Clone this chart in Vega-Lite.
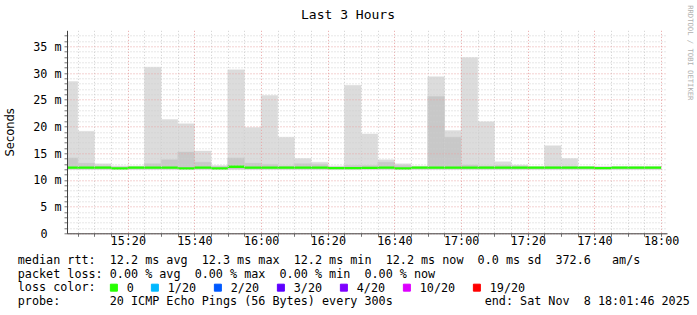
{
  "$schema": "https://vega.github.io/schema/vega-lite/v6.json",
  "width": 600,
  "height": 203,
  "autosize": {"type": "none"},
  "padding": {"left": 67, "top": 30.3, "right": 30, "bottom": 81.7},
  "background": "white",
  "data": {
    "values": [
      {"t": "2025-11-08T15:00:00Z", "t2": "2025-11-08T15:05:00Z", "lo": 12.0, "dhi": 14.1, "hi": 28.4, "med": 12.3, "loss": "0"},
      {"t": "2025-11-08T15:05:00Z", "t2": "2025-11-08T15:10:00Z", "lo": 12.0, "dhi": 13.1, "hi": 19.1, "med": 12.3, "loss": "0"},
      {"t": "2025-11-08T15:10:00Z", "t2": "2025-11-08T15:15:00Z", "lo": 12.0, "dhi": 12.6, "hi": 13.0, "med": 12.3, "loss": "0"},
      {"t": "2025-11-08T15:15:00Z", "t2": "2025-11-08T15:20:00Z", "lo": 12.0, "dhi": 12.4, "hi": 12.6, "med": 12.15, "loss": "0"},
      {"t": "2025-11-08T15:20:00Z", "t2": "2025-11-08T15:25:00Z", "lo": 12.0, "dhi": 12.4, "hi": 12.6, "med": 12.3, "loss": "0"},
      {"t": "2025-11-08T15:25:00Z", "t2": "2025-11-08T15:30:00Z", "lo": 12.0, "dhi": 13.0, "hi": 31.1, "med": 12.3, "loss": "0"},
      {"t": "2025-11-08T15:30:00Z", "t2": "2025-11-08T15:35:00Z", "lo": 12.0, "dhi": 13.75, "hi": 21.3, "med": 12.3, "loss": "0"},
      {"t": "2025-11-08T15:35:00Z", "t2": "2025-11-08T15:40:00Z", "lo": 12.0, "dhi": 15.2, "hi": 20.5, "med": 12.15, "loss": "0"},
      {"t": "2025-11-08T15:40:00Z", "t2": "2025-11-08T15:45:00Z", "lo": 12.0, "dhi": 13.3, "hi": 15.4, "med": 12.3, "loss": "0"},
      {"t": "2025-11-08T15:45:00Z", "t2": "2025-11-08T15:50:00Z", "lo": 12.0, "dhi": 12.5, "hi": 12.7, "med": 12.15, "loss": "0"},
      {"t": "2025-11-08T15:50:00Z", "t2": "2025-11-08T15:55:00Z", "lo": 12.0, "dhi": 14.1, "hi": 30.6, "med": 12.45, "loss": "0"},
      {"t": "2025-11-08T15:55:00Z", "t2": "2025-11-08T16:00:00Z", "lo": 12.0, "dhi": 13.1, "hi": 19.8, "med": 12.3, "loss": "0"},
      {"t": "2025-11-08T16:00:00Z", "t2": "2025-11-08T16:05:00Z", "lo": 12.0, "dhi": 12.9, "hi": 25.8, "med": 12.3, "loss": "0"},
      {"t": "2025-11-08T16:05:00Z", "t2": "2025-11-08T16:10:00Z", "lo": 12.0, "dhi": 12.6, "hi": 18.0, "med": 12.3, "loss": "0"},
      {"t": "2025-11-08T16:10:00Z", "t2": "2025-11-08T16:15:00Z", "lo": 12.0, "dhi": 13.0, "hi": 14.0, "med": 12.3, "loss": "0"},
      {"t": "2025-11-08T16:15:00Z", "t2": "2025-11-08T16:20:00Z", "lo": 12.0, "dhi": 12.9, "hi": 13.3, "med": 12.3, "loss": "0"},
      {"t": "2025-11-08T16:20:00Z", "t2": "2025-11-08T16:25:00Z", "lo": 12.0, "dhi": 12.4, "hi": 12.6, "med": 12.2, "loss": "0"},
      {"t": "2025-11-08T16:25:00Z", "t2": "2025-11-08T16:30:00Z", "lo": 12.0, "dhi": 12.7, "hi": 27.7, "med": 12.2, "loss": "0"},
      {"t": "2025-11-08T16:30:00Z", "t2": "2025-11-08T16:35:00Z", "lo": 12.0, "dhi": 12.7, "hi": 18.6, "med": 12.25, "loss": "0"},
      {"t": "2025-11-08T16:35:00Z", "t2": "2025-11-08T16:40:00Z", "lo": 12.0, "dhi": 13.3, "hi": 13.75, "med": 12.3, "loss": "0"},
      {"t": "2025-11-08T16:40:00Z", "t2": "2025-11-08T16:45:00Z", "lo": 12.0, "dhi": 12.7, "hi": 13.0, "med": 12.15, "loss": "0"},
      {"t": "2025-11-08T16:45:00Z", "t2": "2025-11-08T16:50:00Z", "lo": 12.0, "dhi": 12.4, "hi": 12.6, "med": 12.3, "loss": "0"},
      {"t": "2025-11-08T16:50:00Z", "t2": "2025-11-08T16:55:00Z", "lo": 12.0, "dhi": 25.6, "hi": 29.3, "med": 12.3, "loss": "0"},
      {"t": "2025-11-08T16:55:00Z", "t2": "2025-11-08T17:00:00Z", "lo": 12.0, "dhi": 18.0, "hi": 19.25, "med": 12.3, "loss": "0"},
      {"t": "2025-11-08T17:00:00Z", "t2": "2025-11-08T17:05:00Z", "lo": 12.0, "dhi": 12.8, "hi": 32.9, "med": 12.3, "loss": "0"},
      {"t": "2025-11-08T17:05:00Z", "t2": "2025-11-08T17:10:00Z", "lo": 12.0, "dhi": 12.6, "hi": 20.9, "med": 12.3, "loss": "0"},
      {"t": "2025-11-08T17:10:00Z", "t2": "2025-11-08T17:15:00Z", "lo": 12.0, "dhi": 12.7, "hi": 13.4, "med": 12.3, "loss": "0"},
      {"t": "2025-11-08T17:15:00Z", "t2": "2025-11-08T17:20:00Z", "lo": 12.0, "dhi": 12.5, "hi": 12.8, "med": 12.3, "loss": "0"},
      {"t": "2025-11-08T17:20:00Z", "t2": "2025-11-08T17:25:00Z", "lo": 12.0, "dhi": 12.4, "hi": 12.5, "med": 12.3, "loss": "0"},
      {"t": "2025-11-08T17:25:00Z", "t2": "2025-11-08T17:30:00Z", "lo": 12.0, "dhi": 12.5, "hi": 16.4, "med": 12.3, "loss": "0"},
      {"t": "2025-11-08T17:30:00Z", "t2": "2025-11-08T17:35:00Z", "lo": 12.0, "dhi": 12.5, "hi": 14.0, "med": 12.3, "loss": "0"},
      {"t": "2025-11-08T17:35:00Z", "t2": "2025-11-08T17:40:00Z", "lo": 12.0, "dhi": 12.4, "hi": 12.5, "med": 12.3, "loss": "0"},
      {"t": "2025-11-08T17:40:00Z", "t2": "2025-11-08T17:45:00Z", "lo": 12.0, "dhi": 12.4, "hi": 12.5, "med": 12.2, "loss": "0"},
      {"t": "2025-11-08T17:45:00Z", "t2": "2025-11-08T17:50:00Z", "lo": 12.0, "dhi": 12.4, "hi": 12.5, "med": 12.3, "loss": "0"},
      {"t": "2025-11-08T17:50:00Z", "t2": "2025-11-08T17:55:00Z", "lo": 12.0, "dhi": 12.4, "hi": 12.5, "med": 12.3, "loss": "0"},
      {"t": "2025-11-08T17:55:00Z", "t2": "2025-11-08T18:00:00Z", "lo": 12.0, "dhi": 12.4, "hi": 12.5, "med": 12.3, "loss": "0"}
    ]
  },
  "encoding": {
    "x": {
      "field": "t",
      "type": "temporal",
      "scale": {
        "type": "utc",
        "nice": false,
        "domain": [
          {"year": 2025, "month": 11, "date": 8, "hours": 15, "minutes": 1, "seconds": 46, "utc": true},
          {"year": 2025, "month": 11, "date": 8, "hours": 18, "minutes": 1, "seconds": 46, "utc": true}
        ]
      },
      "axis": {
        "values": [
          {"year": 2025, "month": 11, "date": 8, "hours": 15, "minutes": 5, "utc": true},
          {"year": 2025, "month": 11, "date": 8, "hours": 15, "minutes": 10, "utc": true},
          {"year": 2025, "month": 11, "date": 8, "hours": 15, "minutes": 15, "utc": true},
          {"year": 2025, "month": 11, "date": 8, "hours": 15, "minutes": 20, "utc": true},
          {"year": 2025, "month": 11, "date": 8, "hours": 15, "minutes": 25, "utc": true},
          {"year": 2025, "month": 11, "date": 8, "hours": 15, "minutes": 30, "utc": true},
          {"year": 2025, "month": 11, "date": 8, "hours": 15, "minutes": 35, "utc": true},
          {"year": 2025, "month": 11, "date": 8, "hours": 15, "minutes": 40, "utc": true},
          {"year": 2025, "month": 11, "date": 8, "hours": 15, "minutes": 45, "utc": true},
          {"year": 2025, "month": 11, "date": 8, "hours": 15, "minutes": 50, "utc": true},
          {"year": 2025, "month": 11, "date": 8, "hours": 15, "minutes": 55, "utc": true},
          {"year": 2025, "month": 11, "date": 8, "hours": 16, "minutes": 0, "utc": true},
          {"year": 2025, "month": 11, "date": 8, "hours": 16, "minutes": 5, "utc": true},
          {"year": 2025, "month": 11, "date": 8, "hours": 16, "minutes": 10, "utc": true},
          {"year": 2025, "month": 11, "date": 8, "hours": 16, "minutes": 15, "utc": true},
          {"year": 2025, "month": 11, "date": 8, "hours": 16, "minutes": 20, "utc": true},
          {"year": 2025, "month": 11, "date": 8, "hours": 16, "minutes": 25, "utc": true},
          {"year": 2025, "month": 11, "date": 8, "hours": 16, "minutes": 30, "utc": true},
          {"year": 2025, "month": 11, "date": 8, "hours": 16, "minutes": 35, "utc": true},
          {"year": 2025, "month": 11, "date": 8, "hours": 16, "minutes": 40, "utc": true},
          {"year": 2025, "month": 11, "date": 8, "hours": 16, "minutes": 45, "utc": true},
          {"year": 2025, "month": 11, "date": 8, "hours": 16, "minutes": 50, "utc": true},
          {"year": 2025, "month": 11, "date": 8, "hours": 16, "minutes": 55, "utc": true},
          {"year": 2025, "month": 11, "date": 8, "hours": 17, "minutes": 0, "utc": true},
          {"year": 2025, "month": 11, "date": 8, "hours": 17, "minutes": 5, "utc": true},
          {"year": 2025, "month": 11, "date": 8, "hours": 17, "minutes": 10, "utc": true},
          {"year": 2025, "month": 11, "date": 8, "hours": 17, "minutes": 15, "utc": true},
          {"year": 2025, "month": 11, "date": 8, "hours": 17, "minutes": 20, "utc": true},
          {"year": 2025, "month": 11, "date": 8, "hours": 17, "minutes": 25, "utc": true},
          {"year": 2025, "month": 11, "date": 8, "hours": 17, "minutes": 30, "utc": true},
          {"year": 2025, "month": 11, "date": 8, "hours": 17, "minutes": 35, "utc": true},
          {"year": 2025, "month": 11, "date": 8, "hours": 17, "minutes": 40, "utc": true},
          {"year": 2025, "month": 11, "date": 8, "hours": 17, "minutes": 45, "utc": true},
          {"year": 2025, "month": 11, "date": 8, "hours": 17, "minutes": 50, "utc": true},
          {"year": 2025, "month": 11, "date": 8, "hours": 17, "minutes": 55, "utc": true},
          {"year": 2025, "month": 11, "date": 8, "hours": 18, "minutes": 0, "utc": true}
        ],
        "labelExpr": "(+datum.value / 60000) % 20 === 0 ? utcFormat(datum.value, '%H:%M') : ''",
        "labelFont": "DejaVu Sans Mono",
        "labelFontSize": 11.75,
        "labelColor": "black",
        "labelPadding": -1,
        "labelFlush": false,
        "labelOverlap": false,
        "labelBaseline": "top",
        "tickSize": 3,
        "tickColor": "#777777",
        "domainColor": "#404040",
        "grid": true,
        "gridColor": {"condition": {"test": "(+datum.value / 60000) % 20 === 0", "value": "#e8a3a3"}, "value": "#cfcfcf"},
        "gridDash": [1, 2],
        "zindex": 1,
        "title": [
          "median rtt:\u00a0\u00a012.2 ms avg\u00a0\u00a012.3 ms max\u00a0\u00a012.2 ms min\u00a0\u00a012.2 ms now\u00a0\u00a00.0 ms sd\u00a0\u00a0372.6\u00a0\u00a0\u00a0am/s",
          "packet loss: 0.00 % avg\u00a0\u00a00.00 % max\u00a0\u00a00.00 % min\u00a0\u00a00.00 % now",
          "loss color:",
          "probe:\u00a0\u00a0\u00a0\u00a0\u00a0\u00a0\u00a020 ICMP Echo Pings (56 Bytes) every 300s\u00a0\u00a0\u00a0\u00a0\u00a0\u00a0\u00a0\u00a0\u00a0\u00a0\u00a0\u00a0\u00a0end: Sat Nov\u00a0\u00a08 18:01:46 2025"
        ],
        "titleFont": "DejaVu Sans Mono",
        "titleFontSize": 11.75,
        "titleFontWeight": "normal",
        "titleColor": "black",
        "titleAnchor": "start",
        "titleAlign": "left",
        "titleBaseline": "top",
        "titleLineHeight": 13.7,
        "titleX": -49.7,
        "titleY": 21.2
      }
    },
    "x2": {"field": "t2"}
  },
  "layer": [
    {
      "mark": {"type": "bar", "clip": true, "color": "#dcdcdc", "stroke": "#dcdcdc", "strokeWidth": 0.4},
      "encoding": {
        "y": {
          "field": "lo",
          "type": "quantitative",
          "scale": {"domain": [0, 38], "nice": false},
          "axis": {
            "values": [0, 1, 2, 3, 4, 5, 6, 7, 8, 9, 10, 11, 12, 13, 14, 15, 16, 17, 18, 19, 20, 21, 22, 23, 24, 25, 26, 27, 28, 29, 30, 31, 32, 33, 34, 35, 36, 37],
            "labelExpr": "datum.value % 5 === 0 ? (datum.value === 0 ? '0' : datum.value + ' m') : ''",
            "labelFont": "DejaVu Sans Mono",
            "labelFontSize": 11.75,
            "labelColor": "black",
            "labelPadding": {"condition": {"test": "datum.value === 0", "value": 17}, "value": 3},
            "labelOverlap": false,
            "labelFlush": false,
            "tickSize": 3,
            "tickColor": "#777777",
            "domainColor": "#404040",
            "grid": true,
            "gridColor": {"condition": {"test": "datum.value % 5 === 0", "value": "#e8a3a3"}, "value": "#cfcfcf"},
            "gridDash": [1, 2],
            "zindex": 1,
            "title": "Seconds",
            "titleFont": "DejaVu Sans",
            "titleFontSize": 11.5,
            "titleFontWeight": "normal",
            "titleColor": "black",
            "titleAngle": 270,
            "titleAlign": "center",
            "titleBaseline": "middle",
            "titleX": -56.7,
            "titleY": 101.5
          }
        },
        "y2": {"field": "hi"}
      }
    },
    {
      "mark": {"type": "bar", "clip": true, "color": "#c8c8c8", "stroke": "#c8c8c8", "strokeWidth": 0.4},
      "encoding": {
        "y": {
          "field": "lo",
          "type": "quantitative",
          "axis": {
            "orient": "right",
            "domain": false,
            "ticks": false,
            "labels": false,
            "grid": false,
            "title": "Last 3 Hours",
            "titleFont": "DejaVu Sans Mono",
            "titleFontSize": 13,
            "titleFontWeight": "normal",
            "titleColor": "black",
            "titleAngle": 0,
            "titleAlign": "center",
            "titleBaseline": "alphabetic",
            "titleX": -319.5,
            "titleY": -12
          }
        },
        "y2": {"field": "dhi"}
      }
    },
    {
      "mark": {"type": "rule", "clip": true, "strokeWidth": 2.4, "strokeCap": "butt"},
      "encoding": {
        "y": {
          "field": "med",
          "type": "quantitative",
          "axis": {
            "orient": "right",
            "domain": false,
            "ticks": false,
            "labels": false,
            "grid": false,
            "title": "RRDTOOL / TOBI OETIKER",
            "titleFont": "DejaVu Sans Mono",
            "titleFontSize": 7.2,
            "titleFontWeight": "normal",
            "titleColor": "#b0b0b0",
            "titleAngle": 90,
            "titleAlign": "center",
            "titleBaseline": "middle",
            "titleX": 22,
            "titleY": 22
          }
        },
        "color": {
          "field": "loss",
          "type": "nominal",
          "scale": {
            "domain": ["0", "1/20", "2/20", "3/20", "4/20", "10/20", "19/20"],
            "range": ["#26ff00", "#00b8ff", "#0059ff", "#5e00ff", "#7e00ff", "#dd00ff", "#ff0000"]
          },
          "legend": {
            "orient": "none",
            "legendX": 41,
            "legendY": 251.5,
            "direction": "horizontal",
            "gridAlign": "none",
            "title": null,
            "padding": 0,
            "symbolType": "square",
            "symbolSize": 49,
            "symbolStrokeWidth": 1,
            "symbolStrokeColor": "black",
            "symbolOffset": 0,
            "labelFont": "DejaVu Sans Mono",
            "labelFontSize": 11.75,
            "labelColor": "black",
            "labelOffset": 7,
            "labelLimit": 0,
            "columnPadding": 15,
            "encode": {
              "symbols": {
                "update": {
                  "fill": {"scale": "color", "field": "value"},
                  "stroke": {"value": "black"},
                  "strokeWidth": {"value": 1},
                  "opacity": {"value": 1},
                  "fillOpacity": {"value": 1}
                }
              }
            }
          }
        }
      }
    }
  ],
  "resolve": {"axis": {"y": "independent"}},
  "config": {"view": {"stroke": null}}
}
